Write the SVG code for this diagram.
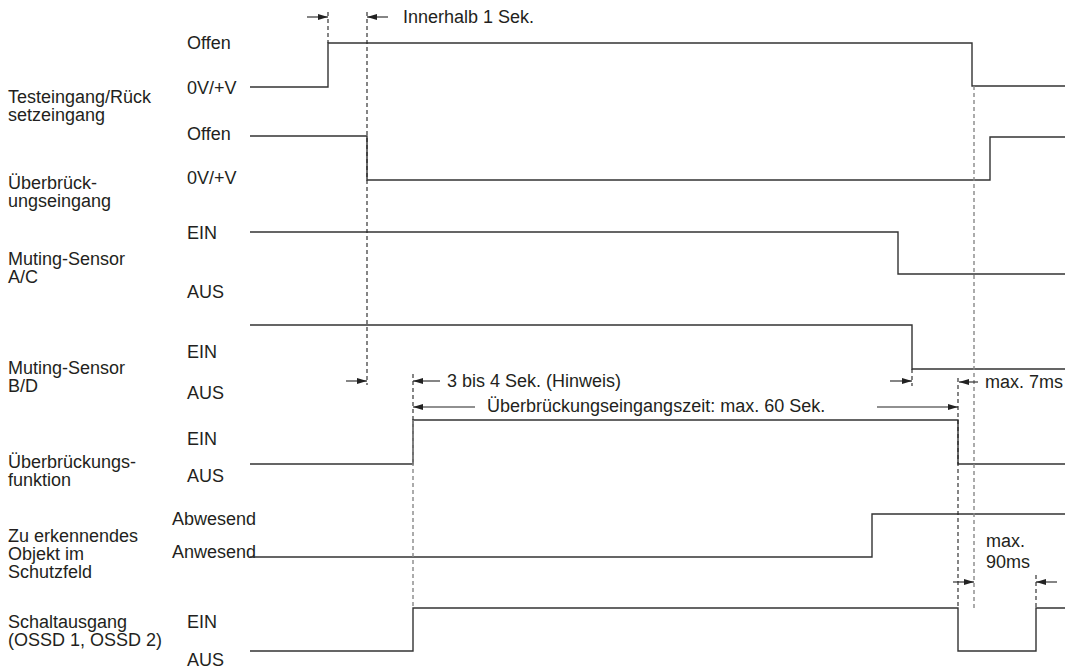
<svg xmlns="http://www.w3.org/2000/svg" width="1070" height="670" viewBox="0 0 1070 670">
<defs>
<style>
text{font-family:"Liberation Sans",Arial,sans-serif;font-size:18px;fill:#231f20}
.sig{fill:none;stroke:#333;stroke-width:1.4}
.dash{fill:none;stroke:#222;stroke-width:1.1;stroke-dasharray:4 3}
.dashg{fill:none;stroke:#888;stroke-width:1.4;stroke-dasharray:4 3}
.arr{fill:none;stroke:#222;stroke-width:1.1;marker-end:url(#ah)}
</style>
<marker id="ah" viewBox="0 0 10 6" refX="10" refY="3" markerWidth="10" markerHeight="6" markerUnits="userSpaceOnUse" orient="auto">
<path d="M0,0 L10,3 L0,6 Z" fill="#222"/>
</marker>
</defs>
<rect width="1070" height="670" fill="#fff"/>

<g id="labels">
<text x="8" y="103">Testeingang/Rück</text>
<text x="8" y="121">setzeingang</text>
<text x="8" y="189">Überbrück-</text>
<text x="8" y="207">ungseingang</text>
<text x="8" y="265">Muting-Sensor</text>
<text x="8" y="283">A/C</text>
<text x="8" y="374">Muting-Sensor</text>
<text x="8" y="392">B/D</text>
<text x="8" y="468">Überbrückungs-</text>
<text x="8" y="486">funktion</text>
<text x="8" y="542">Zu erkennendes</text>
<text x="8" y="560">Objekt im</text>
<text x="8" y="578">Schutzfeld</text>
<text x="8" y="628">Schaltausgang</text>
<text x="8" y="646">(OSSD 1, OSSD 2)</text>
</g>

<g id="states">
<text x="187" y="49">Offen</text>
<text x="187" y="94">0V/+V</text>
<text x="187" y="140">Offen</text>
<text x="187" y="184">0V/+V</text>
<text x="187" y="239">EIN</text>
<text x="187" y="298">AUS</text>
<text x="187" y="358">EIN</text>
<text x="187" y="399">AUS</text>
<text x="187" y="445">EIN</text>
<text x="187" y="482">AUS</text>
<text x="172" y="525">Abwesend</text>
<text x="172" y="558">Anwesend</text>
<text x="187" y="628">EIN</text>
<text x="187" y="666">AUS</text>
</g>

<g id="signals">
<path id="sig-test" class="sig" d="M250,87 H328 V43 H972 V86 H1065"/>
<path id="sig-bypass-in" class="sig" d="M250,136 H367 V180 H990 V137 H1065"/>
<path id="sig-ac" class="sig" d="M250,232 H898 V274 H1065"/>
<path id="sig-bd" class="sig" d="M250,325 H912 V369 H1065"/>
<path id="sig-bypass-fn" class="sig" d="M250,464 H413 V420 H958 V464 H1065"/>
<path id="sig-object" class="sig" d="M250,557 H872 V514 H1065"/>
<path id="sig-ossd" class="sig" d="M250,651 H413 V608 H958 V651 H1036 V608 H1065"/>
</g>

<g id="connectors">
<path class="dash" d="M328,12 V43"/>
<path class="dash" d="M367,12 V385"/>
<path class="dash" d="M413,374 V420"/>
<path class="dashg" d="M413,420 V608"/>
<path class="dash" d="M912,369 V386"/>
<path class="dash" d="M958,378 V608"/>
<path class="dashg" d="M974,86 V608"/>
<path class="dash" d="M1036,575 V608"/>

<path class="arr" d="M307,17 H328"/>
<path class="arr" d="M388,17 H367"/>
<path class="arr" d="M346,381 H367"/>
<path class="arr" d="M440,381 H413"/>
<path class="arr" d="M890,381 H912"/>
<path class="arr" d="M978,382 H959"/>
<path class="arr" d="M475,407 H413"/>
<path class="arr" d="M877,407 H958"/>
<path class="arr" d="M953,582 H974"/>
<path class="arr" d="M1057,582 H1036"/>
</g>

<g id="annotations">
<text x="403" y="23">Innerhalb 1 Sek.</text>
<text x="447" y="387">3 bis 4 Sek. (Hinweis)</text>
<text x="487" y="412">Überbrückungseingangszeit: max. 60 Sek.</text>
<text x="985" y="388">max. 7ms</text>
<text x="986" y="547">max.</text>
<text x="986" y="568">90ms</text>
</g>
</svg>
